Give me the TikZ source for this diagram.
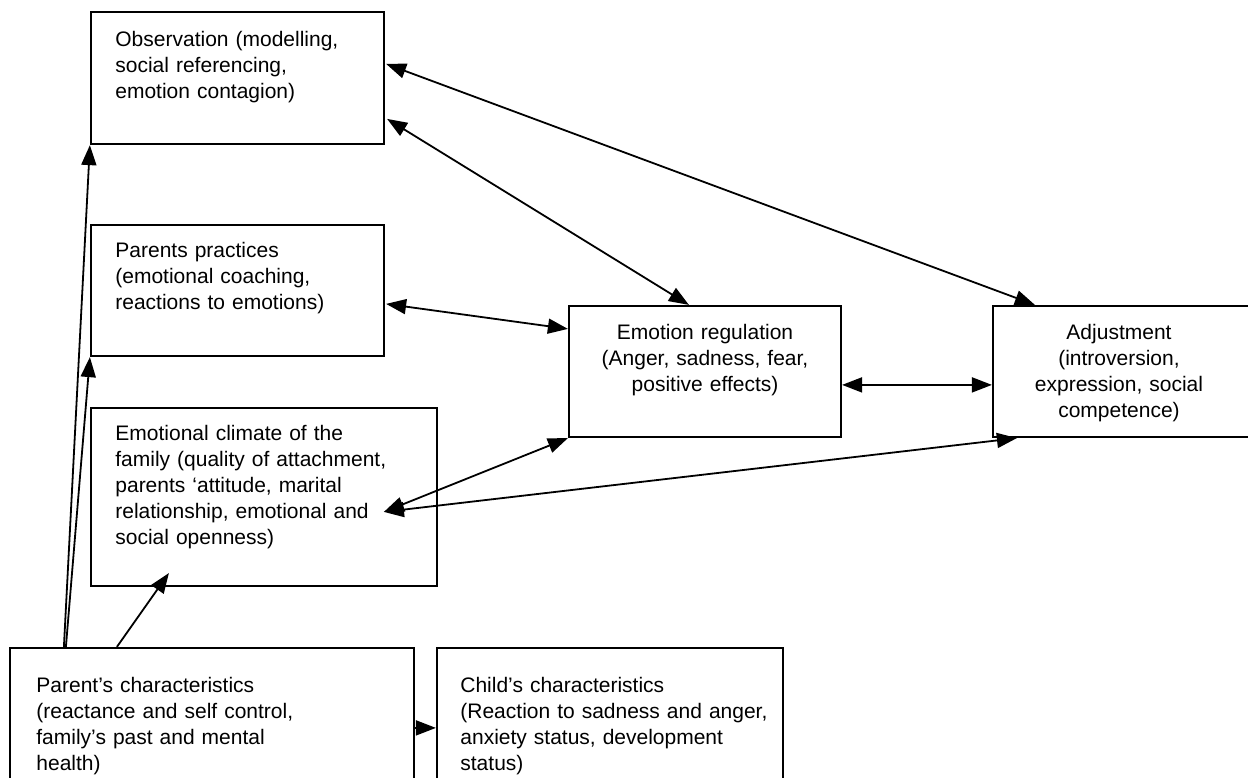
\documentclass[tikz,border=0pt]{standalone}
\usepackage{fontspec}
\setmainfont{Liberation Sans}
\usetikzlibrary{arrows.meta, positioning, fit, calc}

\begin{document}
\begin{tikzpicture}[x=0.5pt, y=-0.5pt,
    box/.style={draw, line width=1.1pt, inner sep=0pt},
    txt/.style={anchor=base west, inner sep=0pt, text width=175pt, align=left, font=\fontsize{10.5}{13}\selectfont},
    ctxt/.style={anchor=base, inner sep=0pt, text width=130pt, align=center, font=\fontsize{10.5}{13}\selectfont},
    arr/.style={line width=0.9pt, -{Triangle[length=10pt,width=7.5pt]}},
    dbl/.style={line width=0.9pt, {Triangle[length=10pt,width=7.5pt]}-{Triangle[length=10pt,width=7.5pt]}}]

    \useasboundingbox (0,0) rectangle (1248,777);
    \clip (0,0) rectangle (1248,777);
    \fill[white] (0,0) rectangle (1248,777);

    % Observation
    \node[box, fit={(91,12) (384,144)}] (obs) {};
    \node[txt] at (115,46) {Observation (modelling,\\social referencing,\\emotion contagion)};
    % Parents practices
    \node[box, fit={(91,225) (384,356)}] (pr) {};
    \node[txt] at (115,257) {Parents practices\\(emotional coaching,\\reactions to emotions)};
    % Emotional climate
    \node[box, fit={(91,408) (437,586)}] (cl) {};
    \node[txt] at (115,440) {Emotional climate of the\\family (quality of attachment,\\parents ‘attitude, marital\\relationship, emotional and\\social openness)};
    % Parent's characteristics
    \node[box, fit={(10,648) (414,800)}] (pc) {};
    \node[txt] at (36,692) {Parent’s characteristics\\(reactance and self control,\\family’s past and mental\\health)};
    % Child's characteristics
    \node[box, fit={(437,648) (783,800)}] (cc) {};
    \node[txt] at (460,692) {Child’s characteristics\\(Reaction to sadness and anger,\\anxiety status, development\\status)};
    % Emotion regulation
    \node[box, fit={(569,306) (841,437)}] (er) {};
    \node[ctxt] at (705,339) {Emotion regulation\\(Anger, sadness, fear,\\positive effects)};
    % Adjustment
    \node[box, fit={(993,306) (1270,437)}] (adj) {};
    \node[ctxt] at (1119,339) {Adjustment\\(introversion,\\expression, social\\competence)};

    % Flechas desde Parent's characteristics
    \draw[arr] ($(pc.north west)+(55,0)$) -- (obs.south west);
    \draw[arr] ($(pc.north west)+(57,0)$) -- (pr.south west);
    \draw[arr] ($(pc.north west)+(108,0)$) -- ($(cl.south west)+(79,-14)$);
    \draw[arr] ($(pc.north east)+(0,81)$) -- ($(cc.north west)+(0,81)$);

    % Flechas dobles
    \draw[dbl] ($(obs.north east)+(2,108)$) -- ($(er.north west)+(121,0)$);
    \draw[dbl] ($(obs.north east)+(1,53)$) -- ($(adj.north west)+(43,0)$);
    \draw[dbl] ($(pr.north east)+(1,80)$) -- ($(er.north west)+(0,24)$);
    \draw[dbl] ($(er.north east)+(0,80)$) -- ($(adj.north west)+(0,80)$);
    \coordinate (clp) at ($(cl.north west)+(294,105)$);
    \draw[dbl] (clp) -- (er.south west);
    \draw[dbl] (clp) -- ($(adj.south west)+(25,0)$);
\end{tikzpicture}
\end{document}
